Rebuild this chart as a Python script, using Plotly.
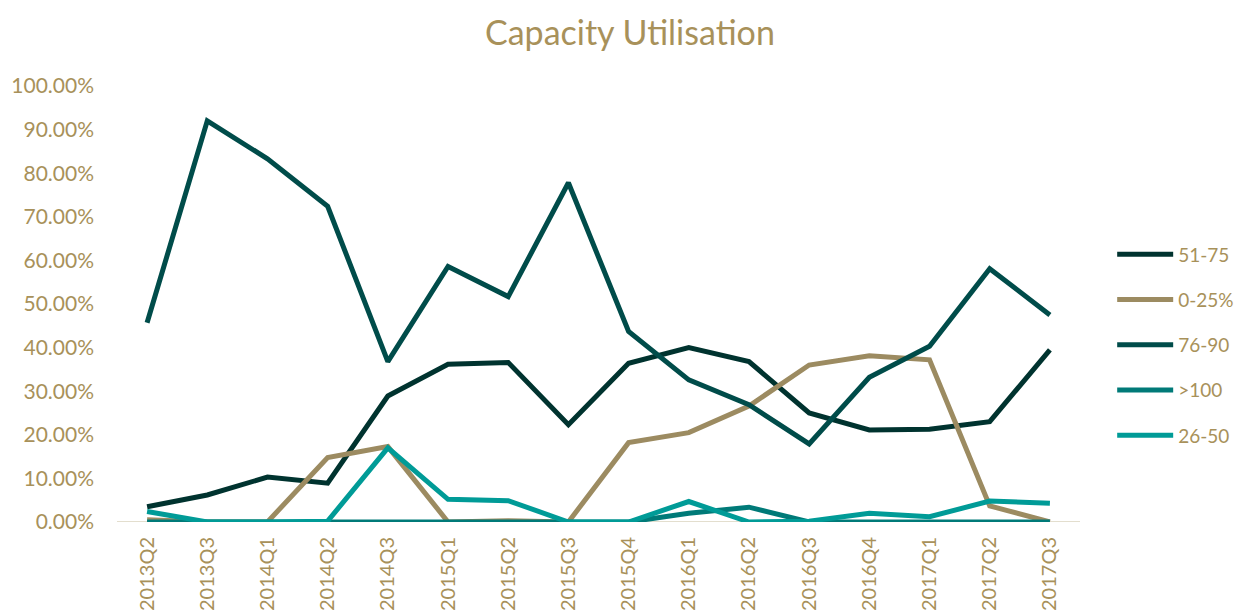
import plotly.graph_objects as go

quarters = ["2013Q2", "2013Q3", "2014Q1", "2014Q2", "2014Q3", "2015Q1", "2015Q2", "2015Q3",
            "2015Q4", "2016Q1", "2016Q2", "2016Q3", "2016Q4", "2017Q1", "2017Q2", "2017Q3"]

s_51_75 = [3.5, 6.2, 10.3, 8.9, 28.9, 36.2, 36.6, 22.3, 36.4, 40.0, 36.8, 25.0, 21.1, 21.3, 23.0, 39.5]
s_0_25 = [0.5, 0.0, 0.0, 14.8, 17.3, 0.0, 0.3, 0.0, 18.2, 20.5, 26.6, 36.0, 38.1, 37.2, 3.7, 0.0]
s_76_90 = [45.7, 92.0, 83.3, 72.4, 36.8, 58.6, 51.7, 77.8, 43.7, 32.6, 26.9, 17.9, 33.2, 40.3, 58.1, 47.5]
s_gt100 = [0.0, 0.0, 0.0, 0.0, 0.0, 0.0, 0.0, 0.0, 0.0, 2.0, 3.4, 0.0, 0.0, 0.0, 0.0, 0.0]
s_26_50 = [2.4, 0.0, 0.0, 0.2, 17.0, 5.2, 4.9, 0.0, 0.0, 4.7, 0.0, 0.2, 2.0, 1.2, 4.8, 4.3]

series = [
    ("51-75", s_51_75, "#00332f"),
    ("0-25%", s_0_25, "#9c8b61"),
    ("76-90", s_76_90, "#004c4a"),
    (">100", s_gt100, "#007a78"),
    ("26-50", s_26_50, "#009b97"),
]

GOLD = "#a8915a"
FONT = "Lato, 'Open Sans', sans-serif"

fig = go.Figure()
for name, vals, color in series:
    fig.add_trace(go.Scatter(
        x=quarters, y=[v / 100 for v in vals], name=name, mode="lines",
        legendgroup=name,
        line=dict(color=color, width=5, shape="linear"),
    ))

fig.update_layout(
    width=1234, height=606,
    paper_bgcolor="white", plot_bgcolor="white",
    margin=dict(l=109, r=162, t=78, b=92, autoexpand=False),
    title=dict(text="Capacity Utilisation", x=0.504, xanchor="center",
               y=1 - 25 / 606, yanchor="middle",
               font=dict(family=FONT, size=34, color=GOLD)),
    font=dict(family=FONT, color=GOLD),
    showlegend=True,
    legend=dict(xref="container", yref="container", x=0.8948, y=0.6246,
                xanchor="left", yanchor="top",
                font=dict(size=19, color=GOLD), tracegroupgap=17.5,
                traceorder="grouped", itemwidth=56, bgcolor="rgba(0,0,0,0)"),
    xaxis=dict(type="category", range=[-0.5, 15.5], showgrid=False, showline=False,
               zeroline=False, ticks="", tickangle=-90, ticklabelstandoff=10,
               automargin=False,
               tickfont=dict(family=FONT, size=20, color=GOLD)),
    yaxis=dict(range=[0, 1.0], dtick=0.1, tickformat=".2%", showgrid=False,
               zeroline=False, showline=False, ticks="", ticklabelstandoff=22,
               automargin=False,
               tickfont=dict(family=FONT, size=21, color=GOLD)),
)

fig.add_shape(type="line", xref="paper", yref="y", x0=0, x1=1, y0=0, y1=0,
              line=dict(color="#e3dece", width=2), layer="below")

fig.write_html("out.html")
